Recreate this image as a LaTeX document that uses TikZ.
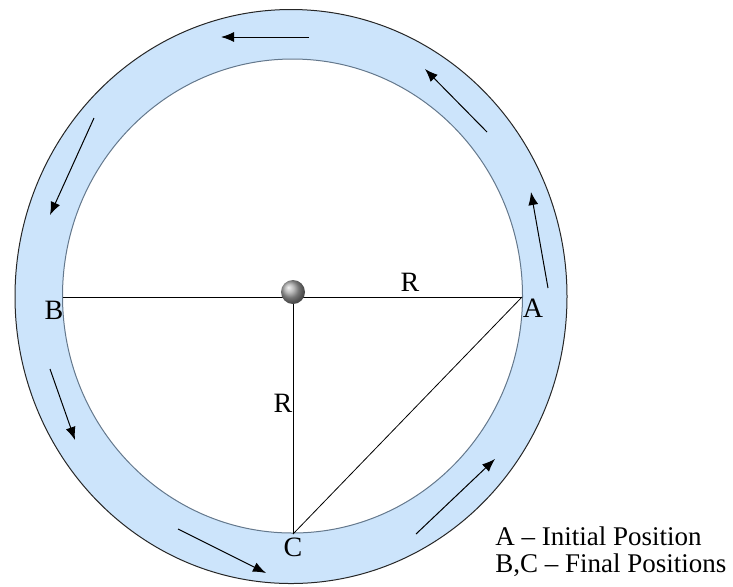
\documentclass[tikz,border=0pt]{standalone}
\usepackage{fontspec}
\setmainfont{Liberation Serif}
\usetikzlibrary{arrows.meta}
\definecolor{ringblue}{RGB}{204,228,251}
\definecolor{rimgray}{RGB}{100,120,140}
\begin{document}
\begin{tikzpicture}[
    x=0.5pt, y=-0.5pt,
    flow/.style={-{Latex[length=6.5pt,width=5pt]}, line width=0.5pt},
    radius line/.style={line width=0.4pt},
    point/.style={font=\fontsize{14}{15}\selectfont, inner sep=0pt},
    legend/.style={font=\fontsize{13.5}{14}\selectfont, inner sep=0pt, anchor=base west}
]
\useasboundingbox (0,0) rectangle (733,586);

% ring
\fill[ringblue, even odd rule] (291,296.5) ellipse [x radius=138pt, y radius=143.5pt]
    (292.5,296) ellipse [x radius=115pt, y radius=118.5pt];
\draw[black!85, line width=0.5pt] (291,296.5) ellipse [x radius=138pt, y radius=143.5pt];
\draw[rimgray, line width=0.5pt] (292.5,296) ellipse [x radius=115pt, y radius=118.5pt];

% positions
\coordinate (O) at (293,297);
\coordinate (A) at (522,297);
\coordinate (B) at (63,297);
\coordinate (C) at (293,534);

\draw[radius line] (B) -- (A);
\draw[radius line] (O) -- (C);
\draw[radius line] (A) -- (C);

\shade[ball color=gray!70] (293,292) circle [radius=6pt];

\node[point] (labelA) at (533,308) {A};
\node[point] (labelB) at (54,310) {B};
\node[point] (labelC) at (293,547) {C};
\node[point] (radiusH) at (410,282) {R};
\node[point] (radiusV) at (283,403) {R};

% flow arrows
\foreach \sx/\sy/\ex/\ey in {548/288/531/192, 487/132/425/69, 309/37/221/37,
    94/118/50/215, 50/369/75/440, 178/529/266/573, 416/534/495/459}
  \draw[flow] (\sx,\sy) -- (\ex,\ey);

\node[legend] (initial) at (495,545) {A -- Initial Position};
\node[legend] (final) at (495,572) {B,C -- Final Positions};

\end{tikzpicture}
\end{document}
